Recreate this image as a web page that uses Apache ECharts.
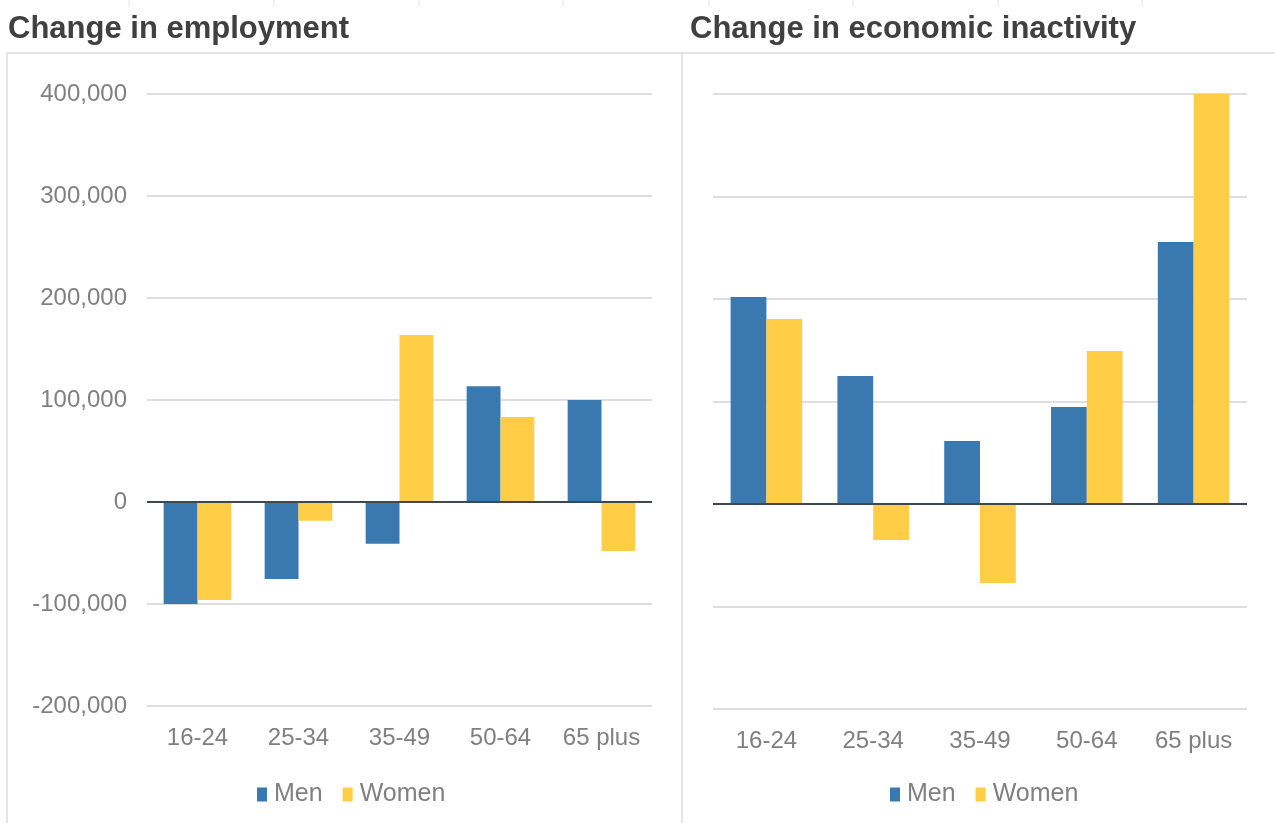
<!DOCTYPE html>
<html lang="en">
<head>
    <meta charset="UTF-8">
    <title>Change in employment and economic inactivity</title>
    <script src="https://cdn.jsdelivr.net/npm/echarts@6/dist/echarts.min.js"></script>
    <style>
        html, body { margin: 0; padding: 0; width: 100%; height: 100%; background: #fff; }
        #container { width: 1275px; height: 823px; }
    </style>
</head>
<body>
    <div id="container"></div>
    <script>
        let ageGroups = ['16-24', '25-34', '35-49', '50-64', '65 plus'];
        let employmentMen = [-100000, -75500, -41000, 113500, 100000];
        let employmentWomen = [-96000, -18500, 163700, 83300, -48000];
        let inactivityMen = [202000, 125000, 61500, 94600, 255600];
        let inactivityWomen = [180500, -35000, -77000, 149300, 401000];
        let titles = ['Change in employment', 'Change in economic inactivity'];

        const MEN = '#3a79b0';
        const WOMEN = '#ffcd46';
        const GREY = '#808080';
        const FONT = '"Liberation Sans", Arial, sans-serif';

        let chart = echarts.init(document.getElementById('container'));

        function xAxis(gridIndex) {
            return {
                type: 'category',
                gridIndex: gridIndex,
                data: ageGroups,
                axisLine: { show: false },
                axisTick: { show: false },
                axisLabel: { color: GREY, fontSize: 24, fontFamily: FONT, margin: 20, interval: 0, hideOverlap: false },
            };
        }

        function yAxis(gridIndex, showLabels) {
            return {
                type: 'value',
                gridIndex: gridIndex,
                min: -200000,
                max: 400000,
                interval: 100000,
                axisLine: { show: false },
                axisTick: { show: false },
                axisLabel: {
                    show: showLabels,
                    color: GREY,
                    fontSize: 24,
                    fontFamily: FONT,
                    margin: 20,
                    formatter: v => v.toLocaleString('en-US'),
                },
                splitLine: { lineStyle: { color: '#dedede', width: 2 } },
            };
        }

        function bars(name, data, color, index, withZero) {
            let s = {
                name: name,
                type: 'bar',
                xAxisIndex: index,
                yAxisIndex: index,
                data: data,
                barGap: '0%',
                barCategoryGap: '33%',
                itemStyle: { color: color },
                emphasis: { disabled: true },
            };
            if (withZero) {
                s.markLine = {
                    silent: true,
                    symbol: 'none',
                    label: { show: false },
                    lineStyle: { color: '#3d4850', width: 2, type: 'solid' },
                    data: [{ yAxis: 0 }],
                };
            }
            return s;
        }

        function legend(left) {
            return {
                left: left,
                top: 777,
                data: ['Men', 'Women'],
                itemWidth: 10,
                itemHeight: 14,
                itemGap: 20,
                icon: 'rect',
                selectedMode: false,
                textStyle: { color: GREY, fontSize: 25, fontFamily: FONT, padding: [0, 0, 0, 2] },
            };
        }

        let ticks = [129, 274, 419, 563, 709, 853, 998, 1142].map(x => ({
            type: 'line',
            shape: { x1: x, y1: 0, x2: x, y2: 7 },
            style: { stroke: '#e3e3e3', lineWidth: 1 },
        }));

        let option = {
            animation: false,
            title: [{
                text: titles[0],
                left: 3,
                top: 9,
                textStyle: { color: '#404040', fontSize: 31, fontWeight: 'bold', fontFamily: FONT },
            }, {
                text: titles[1],
                left: 685,
                top: 9,
                textStyle: { color: '#404040', fontSize: 31, fontWeight: 'bold', fontFamily: FONT },
            }],
            legend: [legend(252), legend(885)],
            grid: [
                { left: 147, right: 623, top: 94, bottom: 117 },
                { left: 713, right: 28, top: 94, bottom: 114 },
            ],
            xAxis: [xAxis(0), xAxis(1)],
            yAxis: [yAxis(0, true), yAxis(1, false)],
            series: [
                bars('Men', employmentMen, MEN, 0, true),
                bars('Women', employmentWomen, WOMEN, 0, false),
                bars('Men', inactivityMen, MEN, 1, true),
                bars('Women', inactivityWomen, WOMEN, 1, false),
            ],
            graphic: ticks.concat([{
                type: 'polyline',
                shape: { points: [[7, 830], [7, 53], [1280, 53]] },
                style: { stroke: '#dcdcdc', lineWidth: 1.5, fill: null },
            }, {
                type: 'line',
                shape: { x1: 682, y1: 53, x2: 682, y2: 830 },
                style: { stroke: '#dcdcdc', lineWidth: 1.5 },
            }]),
        };

        chart.setOption(option);
    </script>
</body>
</html>
